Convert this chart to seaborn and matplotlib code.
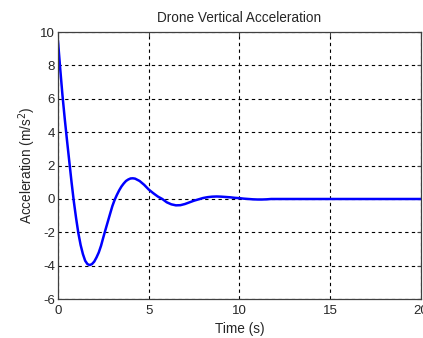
import numpy as np
import pandas as pd
import matplotlib
matplotlib.use("Agg")
import matplotlib.pyplot as plt
import seaborn as sns

# Values
time_s = [0.0, 0.125, 0.25, 0.375, 0.5, 0.625, 0.75, 0.875, 1.0, 1.125,
          1.25, 1.375, 1.5, 1.625, 1.75, 1.875, 2.0, 2.125, 2.25, 2.375,
          2.5, 2.625, 2.75, 2.875, 3.0, 3.125, 3.25, 3.375, 3.5, 3.625,
          3.75, 3.875, 4.0, 4.125, 4.25, 4.5, 4.75, 5.0, 5.25, 5.5, 5.75,
          6.0, 6.25, 6.5, 6.75, 7.0, 7.25, 7.5, 7.75, 8.0, 8.25, 8.5, 8.75,
          9.0, 9.25, 9.5, 9.75, 10.0, 10.25, 10.5, 10.75, 11.0, 11.25, 11.5,
          11.75, 12.0, 13.0, 14.0, 15.0, 16.0, 17.0, 18.0, 19.0, 20.0]
accel = [9.5, 7.8, 6.2, 4.8, 3.5, 2.25, 1.0, -0.15, -1.15, -2.05,
         -2.76, -3.3, -3.7, -3.9, -3.96, -3.9, -3.75, -3.5, -3.2, -2.8,
         -2.3, -1.82, -1.35, -0.88, -0.42, -0.05, 0.25, 0.52, 0.75, 0.93,
         1.08, 1.17, 1.23, 1.24, 1.22, 1.08, 0.85, 0.57, 0.35, 0.15, 0.0,
         -0.2, -0.32, -0.38, -0.37, -0.3, -0.2, -0.1, -0.02, 0.06, 0.11, 0.14, 0.15,
         0.14, 0.12, 0.1, 0.07, 0.05, 0.02, 0.0, -0.02, -0.03, -0.03, -0.02,
         0.0, 0.0, 0.0, 0.0, 0.0, 0.0, 0.0, 0.0, 0.0, 0.0]

xticks = [0, 5, 10, 15, 20]
yticks = [-6, -4, -2, 0, 2, 4, 6, 8, 10]

df = pd.DataFrame({"Time": time_s, "Accel": accel})

sns.set_style("white")
plt.rcParams["font.family"] = ["Liberation Sans", "DejaVu Sans"]
plt.rcParams["axes.unicode_minus"] = False

fig = plt.figure(figsize=(4.23, 3.38), dpi=100)
ax = fig.add_axes([0.137, 0.115, 0.858, 0.79])

sns.lineplot(data=df, x="Time", y="Accel", color="#0000ff", linewidth=1.8, ax=ax)

ax.set_xlim(0, 20)
ax.set_ylim(-6, 10)
ax.set_xticks(xticks)
ax.set_yticks(yticks)
ax.grid(True, color="black", linestyle=(0, (3, 3)), linewidth=0.8)
ax.tick_params(direction="in", top=True, right=True, length=3,
               labelsize=9.5, color="#404040", pad=2)
ax.tick_params(axis="x", pad=4)
for s in ax.spines.values():
    s.set_color("#404040")
    s.set_linewidth(0.9)

ax.set_title("Drone Vertical Acceleration", fontsize=9.8, pad=7)
ax.set_xlabel("Time (s)", fontsize=9.8, labelpad=4)
ax.set_ylabel("Acceleration (m/s$^2$)", fontsize=9.8, labelpad=2)

fig.savefig("out.png", dpi=100, facecolor="white")
